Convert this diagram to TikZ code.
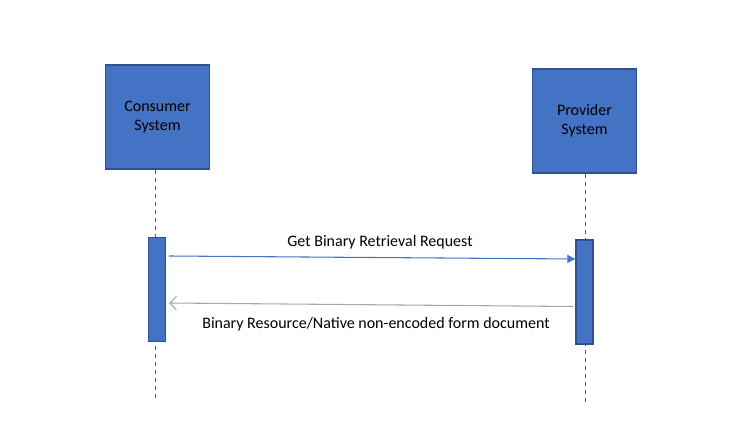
\documentclass[tikz,border=0pt]{standalone}
\usepackage{fontspec}
\setmainfont{Carlito}
\usetikzlibrary{arrows.meta}
\definecolor{boxfill}{HTML}{4472C4}
\definecolor{boxline}{HTML}{2F528F}
\definecolor{lifegray}{HTML}{595959}
\definecolor{retgray}{HTML}{A6A6A6}
\begin{document}
\begin{tikzpicture}[x=0.75pt,y=-0.75pt,
  actor/.style={draw=boxline,line width=0.9pt,fill=boxfill,minimum width=104*0.75pt,minimum height=104*0.75pt,inner sep=0pt,align=center,font=\fontsize{12}{14.6}\selectfont,text=black},
  actbar/.style={draw=boxline,line width=0.9pt,fill=boxfill,minimum width=17*0.75pt,inner sep=0pt},
  lifeline/.style={draw=lifegray,line width=0.9pt,dash pattern=on 3.5pt off 2.5pt},
  msg/.style={draw=boxfill,line width=0.8pt,-{Triangle[length=6pt,width=6pt]}},
  ret/.style={draw=retgray,line width=0.8pt,-{Straight Barb[length=5pt,width=10pt,line width=0.8pt]}},
  lbl/.style={font=\fontsize{12}{14.6}\selectfont,text=black,inner sep=0pt}]
\useasboundingbox (0,0) rectangle (732,441);
\node[actor] (cons) at (157.5,117) {Consumer\\System};
\node[actor] (prov) at (584.5,121) {Provider\\System};
\coordinate (consend) at (155.5,399);
\coordinate (provend) at (585.5,403);
\draw[lifeline] (cons.south -| consend) -- (consend);
\draw[lifeline] (prov.south -| provend) -- (provend);
\node[actbar,minimum height=104*0.75pt] (cbar) at (157,289.5) {};
\node[actbar,minimum height=104*0.75pt] (pbar) at (584.5,292) {};
\coordinate (m1s) at (169,256);
\coordinate (m1e) at (pbar.west |- 0,259);
\coordinate (m2s) at (573,306.5);
\coordinate (m2e) at (169,303);
\draw[msg] (m1s) -- (m1e);
\draw[ret] (m2s) -- (m2e);
\node[lbl] (l1) at (380,242) {Get Binary Retrieval Request};
\node[lbl] (l2) at (376,324) {Binary Resource/Native non-encoded form document};
\end{tikzpicture}
\end{document}
